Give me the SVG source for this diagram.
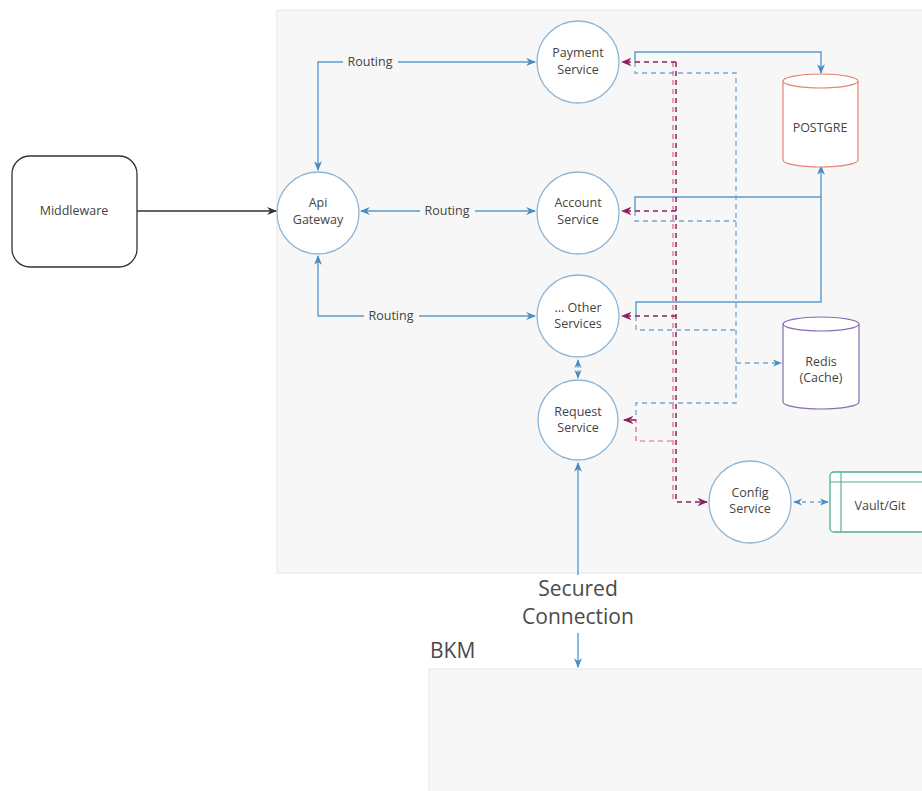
<svg xmlns="http://www.w3.org/2000/svg" width="922" height="791" viewBox="0 0 922 791">
<defs>
<marker id="ab" viewBox="0 0 10 10" refX="9" refY="5" markerWidth="7" markerHeight="7" orient="auto-start-reverse"><path d="M0,1 L10,5 L0,9 L3,5 Z" fill="#4a8cc4"/></marker>
<marker id="ak" viewBox="0 0 10 10" refX="9" refY="5" markerWidth="7" markerHeight="7" orient="auto-start-reverse"><path d="M0,1 L10,5 L0,9 L3,5 Z" fill="#333"/></marker>
<marker id="ap" viewBox="0 0 10 10" refX="9" refY="5" markerWidth="7" markerHeight="7" orient="auto-start-reverse"><path d="M0,1 L10,5 L0,9 L3,5 Z" fill="#8e1f5e"/></marker>
<style>
text{font-family:"Open Sans","Noto Sans","Liberation Sans",sans-serif;fill:#444;text-anchor:middle}
.n{font-size:12.5px}
.big{font-size:21px;fill:#4a4a4a}
.svc{fill:#fff;stroke:#8fb6d6;stroke-width:1.3}
.bl{fill:none;stroke:#5a9ad0;stroke-width:1.4}
.bd{fill:none;stroke:#7aa7cf;stroke-width:1.3;stroke-dasharray:5 4}
.pd{fill:none;stroke:#8e1f5e;stroke-width:1.5;stroke-dasharray:5 4}
.pk{fill:none;stroke:#e0608a;stroke-width:1.2;stroke-dasharray:5 4}
.lbl{fill:#f7f7f7}
</style>
</defs>
<rect x="0" y="0" width="922" height="791" fill="#fff"/>
<g id="container"><rect x="277" y="10" width="650" height="563" fill="#f7f7f7" stroke="#e6e6e6"/></g>
<g id="bkm"><rect x="429" y="669" width="500" height="130" fill="#f7f7f7" stroke="#e6e6e6"/><text x="430" y="658" style="font-size:21px;fill:#4a4a4a;text-anchor:start">BKM</text></g>

<g id="connectors">
<path class="bl" d="M137,211 H276" style="stroke:#333" marker-end="url(#ak)"/>
<path class="bl" d="M318,170 V62 H535" marker-start="url(#ab)" marker-end="url(#ab)"/>
<path class="bl" d="M361,211 H535" marker-start="url(#ab)" marker-end="url(#ab)"/>
<path class="bl" d="M318,256 V316 H535" marker-start="url(#ab)" marker-end="url(#ab)"/>
<rect class="lbl" x="343" y="53" width="55" height="18"/>
<text class="n" x="370" y="66">Routing</text>
<rect class="lbl" x="420" y="202" width="55" height="18"/>
<text class="n" x="447" y="215">Routing</text>
<rect class="lbl" x="364" y="307" width="55" height="18"/>
<text class="n" x="391" y="320">Routing</text>
<!-- to POSTGRE -->
<path class="bl" d="M635,62 V52 H821 V73" marker-end="url(#ab)"/>
<path class="bl" d="M635,211 V197 H821 V166" marker-end="url(#ab)"/>
<path class="bl" d="M636,316 V302 H821 V197"/>
<!-- cache dashed -->
<path class="bd" d="M635,62 V73 H736 V403 H636 V420"/>
<path class="bd" d="M635,211 V221 H736"/>
<path class="bd" d="M636,316 V330 H736"/>
<path class="bd" d="M736,363 H781" marker-end="url(#ab)"/>
<!-- config purple -->
<path class="pk" d="M673,62 V502"/>
<path class="pd" d="M676,62 V502 H707" marker-end="url(#ap)"/>
<path class="pd" d="M676,62 H622" marker-end="url(#ap)"/>
<path class="pd" d="M676,211 H622" marker-end="url(#ap)"/>
<path class="pd" d="M676,316 H622" marker-end="url(#ap)"/>
<path class="pk" d="M672,441 H636 V420 H624"/>
<path class="pd" d="M636,420 H624" marker-end="url(#ap)"/>
<!-- other/request -->
<path class="bd" d="M578,360 V378" style="stroke-dasharray:3 2" marker-start="url(#ab)" marker-end="url(#ab)"/>
<!-- config vault -->
<path class="bd" d="M794,502 H828" style="stroke-dasharray:4 4" marker-start="url(#ab)" marker-end="url(#ab)"/>
<!-- secured -->
<path class="bl" d="M578,575 V463" marker-end="url(#ab)"/>
<path class="bl" d="M578,633 V667" marker-end="url(#ab)"/>
</g>
<text class="big" x="578" y="596">Secured</text>
<text class="big" x="578" y="624">Connection</text>

<g id="middleware"><rect x="12" y="156" width="125" height="111" rx="18" fill="#fff" stroke="#333" stroke-width="1.3"/><text class="n" x="74" y="215">Middleware</text></g>
<g id="gateway"><circle class="svc" cx="318" cy="213" r="41"/><text class="n" x="318" y="207">Api</text><text class="n" x="318" y="224">Gateway</text></g>
<g id="payment"><circle class="svc" cx="578" cy="62" r="41"/><text class="n" x="578" y="57">Payment</text><text class="n" x="578" y="74">Service</text></g>
<g id="account"><circle class="svc" cx="578" cy="213" r="41"/><text class="n" x="578" y="207">Account</text><text class="n" x="578" y="224">Service</text></g>
<g id="other"><circle class="svc" cx="578" cy="316" r="41"/><text class="n" x="578" y="312">... Other</text><text class="n" x="578" y="328">Services</text></g>
<g id="request"><circle class="svc" cx="578" cy="420" r="40"/><text class="n" x="578" y="416">Request</text><text class="n" x="578" y="432">Service</text></g>
<g id="config"><circle class="svc" cx="750" cy="502" r="41"/><text class="n" x="750" y="497">Config</text><text class="n" x="750" y="513">Service</text></g>
<g id="postgre"><path d="M783,81 V160 A37.5,7 0 0 0 858,160 V81" fill="#fff" stroke="#e8836f" stroke-width="1.2"/><ellipse cx="820.5" cy="81" rx="37.5" ry="7" fill="#fff" stroke="#e8836f" stroke-width="1.2"/><text class="n" x="820" y="132">POSTGRE</text></g>
<g id="redis"><path d="M783,324 V402 A38,7 0 0 0 859,402 V324" fill="#fff" stroke="#8a6bb0" stroke-width="1.2"/><ellipse cx="821" cy="324" rx="38" ry="7" fill="#fff" stroke="#8a6bb0" stroke-width="1.2"/><text class="n" x="821" y="366">Redis</text><text class="n" x="821" y="382">(Cache)</text></g>
<g id="vault"><rect x="830" y="472" width="95" height="60" rx="4" fill="#fff" stroke="#4fb08a" stroke-width="1.3"/><path d="M841,472 V532 M830,482 H925" stroke="#4fb08a" stroke-width="1.1" fill="none"/><text class="n" x="880" y="510">Vault/Git</text></g>
</svg>
